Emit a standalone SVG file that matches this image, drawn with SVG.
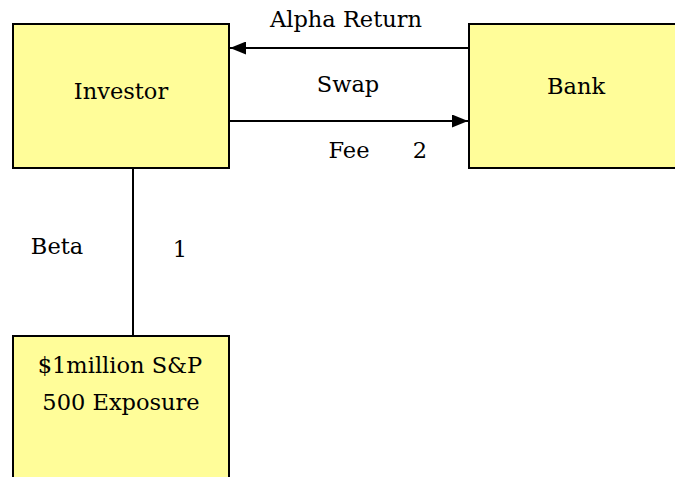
<svg xmlns="http://www.w3.org/2000/svg" width="675" height="477" viewBox="0 0 675 477">
  <style>
    .box { fill: #FFFD99; stroke: #000; stroke-width: 2; }
    .lbl { font-family: "DejaVu Serif", "Liberation Serif", serif; font-size: 22.5px; fill: #000; text-anchor: middle; }
    .edge { stroke: #000; stroke-width: 2; fill: none; }
  </style>
  <defs>
    <marker id="arrow" viewBox="0 0 16 13" refX="16" refY="6.5" markerWidth="16" markerHeight="13" markerUnits="userSpaceOnUse" orient="auto">
      <path d="M0,0 L16,6.5 L0,13 Z" fill="#000"/>
    </marker>
  </defs>

  <g id="investor">
    <rect class="box" x="13" y="24" width="216" height="144"/>
    <text class="lbl" x="121" y="99">Investor</text>
  </g>

  <g id="bank">
    <rect class="box" x="469" y="24" width="220" height="144"/>
    <text class="lbl" x="576" y="94">Bank</text>
  </g>

  <g id="exposure">
    <rect class="box" x="13" y="336" width="216" height="160"/>
    <text class="lbl" x="120" y="373">$1million S&amp;P</text>
    <text class="lbl" x="121" y="410">500 Exposure</text>
  </g>

  <g id="connectors">
    <line class="edge" x1="469" y1="48" x2="230" y2="48" marker-end="url(#arrow)"/>
    <line class="edge" x1="229" y1="121" x2="468" y2="121" marker-end="url(#arrow)"/>
    <line class="edge" x1="133" y1="168" x2="133" y2="336"/>
    <text class="lbl" x="346" y="27">Alpha Return</text>
    <text class="lbl" x="348" y="92">Swap</text>
    <text class="lbl" x="349" y="158">Fee</text>
    <text class="lbl" x="420" y="158">2</text>
    <text class="lbl" x="57" y="254">Beta</text>
    <text class="lbl" x="180" y="257">1</text>
  </g>
</svg>
